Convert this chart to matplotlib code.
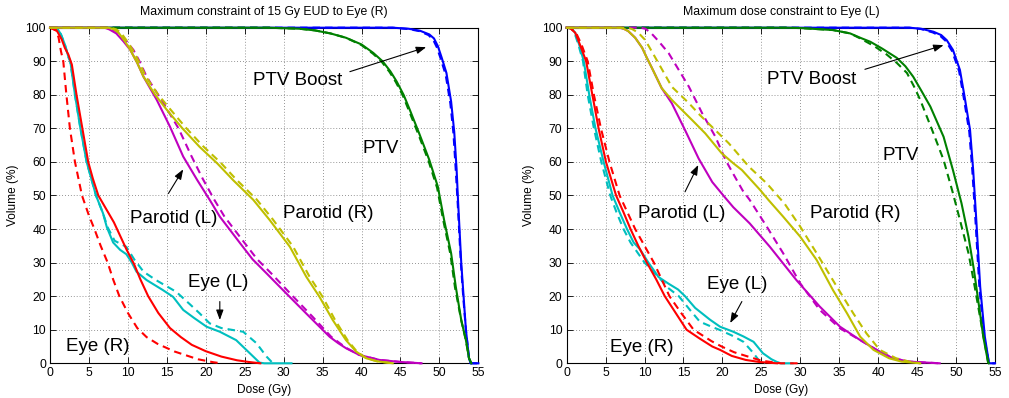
import matplotlib
matplotlib.use("Agg")
import matplotlib.pyplot as plt

plt.rcParams["font.family"] = ["Liberation Sans", "DejaVu Sans"]

# ---------------------------------------------------------------------------
# Dose-volume histograms: (dose in Gy, volume in %) pairs.
# Plan A is drawn solid, plan B dashed.
# ---------------------------------------------------------------------------

# Left panel: maximum constraint of 15 Gy EUD to Eye (R)
eud_boost_a = [(0, 100), (44, 100), (46, 99.7), (47.5, 99.1), (48.7, 98), (49.3, 96.8),
               (49.8, 94.5), (50.3, 91), (50.9, 86.5), (51.5, 78), (51.9, 69), (52.2, 58),
               (52.4, 48), (52.8, 30), (53.1, 20), (53.4, 10), (53.8, 1.5), (54.0, 0), (55, 0)]
eud_boost_b = [(0, 100), (44, 100), (46, 99.6), (47.4, 99.0), (48.6, 97.8), (49.2, 96.4),
               (49.7, 94.0), (50.2, 90.5), (50.8, 86.0), (51.4, 77.5), (51.8, 68.5), (52.1, 57.5),
               (52.35, 47.5), (52.75, 30), (53.05, 20), (53.4, 10), (53.8, 1.5), (54.0, 0), (55, 0)]
eud_ptv_a = [(0, 100), (28, 100), (32, 99.7), (34, 99.2), (36, 98.3), (38, 97), (40, 95),
             (41.5, 92.5), (42.7, 90), (43.7, 87), (44.5, 84), (45.4, 80), (46.2, 75.5),
             (47.4, 68.5), (48.7, 60.6), (49.8, 52.6), (50.6, 42.7), (51.5, 32.8), (52.1, 22.8),
             (52.8, 12.9), (53.4, 6.9), (53.8, 1.5), (54.1, 0)]
eud_ptv_b = [(0, 100), (28, 100), (32, 99.7), (34, 99.2), (36, 98.3), (38, 97), (40, 94.8),
             (41.5, 92.2), (42.6, 89.8), (43.6, 86.8), (44.4, 83.8), (45.3, 79.8), (46.1, 75.2),
             (47.3, 68.2), (48.6, 60.3), (49.7, 52.3), (50.5, 42.5), (51.4, 32.6), (52.0, 22.6),
             (52.8, 12.8), (53.4, 6.8), (53.8, 1.5), (54.1, 0)]
eud_parl_a = [(0, 100), (7.0, 100), (7.6, 99.5), (8.5, 98.3), (9.4, 96), (10.3, 93.4),
              (11.2, 89.5), (12, 85.4), (13.7, 78.5), (15.4, 70.5), (17.1, 61.6), (18.9, 54.6),
              (20.5, 48.7), (21.8, 43.7), (24.4, 35.8), (26, 31), (27.8, 26.8), (30.3, 20.9),
              (33.3, 13.9), (35.9, 7.9), (37, 6), (38, 4.5), (39.7, 2.5), (42.3, 1), (45, 0.4),
              (47.7, 0)]
eud_parl_b = [(0, 100), (7.3, 100), (8, 99.5), (8.9, 98.3), (9.8, 96), (10.7, 93.4),
              (11.6, 89.5), (12.4, 85.4), (14.3, 78.5), (16.5, 70), (18.1, 62), (19.6, 55),
              (21.1, 48.7), (22.4, 43.7), (25.0, 35.8), (26.6, 31), (28.4, 26.8), (30.8, 20.9),
              (33.7, 13.9), (36.1, 7.9), (37.2, 6), (38.1, 4.5), (39.7, 2.5), (42.3, 1), (45, 0.4),
              (47.7, 0)]
eud_parr_a = [(0, 100), (7.5, 100), (8.2, 99.5), (8.8, 98.5), (9.6, 96), (10.3, 93.4),
              (11.2, 89.5), (12, 85.4), (13.5, 80), (15, 75.5), (17, 70), (19.2, 64.5),
              (21.5, 59.5), (23.5, 54.6), (26.1, 48.7), (28.2, 42.7), (30.8, 34.7), (32.9, 25.8),
              (34.6, 19.8), (36.3, 12.9), (38, 6.9), (39.3, 3.5), (40.6, 1.5), (42, 0.6),
              (43, 0.3), (44, 0)]
eud_parr_b = [(0, 100), (7.8, 100), (8.5, 99.5), (9.1, 98.5), (9.9, 96), (10.6, 93.4),
              (11.5, 89.5), (12.3, 85.4), (13.9, 80), (15.4, 75.8), (17.4, 70.3), (19.6, 64.8),
              (21.9, 59.8), (23.9, 54.8), (26.5, 48.9), (28.6, 42.9), (31.2, 34.8), (33.3, 25.9),
              (35.0, 19.8), (36.6, 12.9), (38.2, 6.9), (39.4, 3.5), (40.6, 1.5), (42, 0.6),
              (43, 0.3), (44, 0)]
eud_eyer_a = [(0, 100), (0.9, 99), (1.5, 96.5), (1.9, 94), (2.35, 92), (2.8, 89), (3.4, 80),
              (4.15, 70), (4.9, 60), (5.5, 55), (6.2, 50), (7.2, 46), (8.2, 42), (9.0, 38),
              (9.8, 34), (10.8, 29.5), (11.6, 25), (12.6, 20), (13.9, 15), (15.4, 10.5),
              (16.8, 7.8), (18.2, 5.5), (20, 3.6), (22, 2), (24, 0.9), (25.5, 0.4), (27, 0)]
eud_eyer_b = [(0, 100), (0.8, 99.3), (1.1, 97), (1.4, 93), (1.7, 90), (2.1, 80), (2.55, 70),
              (3.2, 60), (4.1, 50), (5.0, 44), (5.7, 40), (6.5, 35), (7.4, 30), (8.1, 25),
              (8.9, 20), (10, 15), (11.2, 10.5), (12.4, 7.8), (13.8, 5.8), (16, 3.5), (19, 1.2),
              (21, 0.3), (22, 0)]
eud_eyel_a = [(0, 100), (1.0, 99.5), (1.4, 98), (1.9, 95), (2.4, 91), (2.6, 90), (3.2, 80),
              (3.9, 70), (4.7, 60), (5.9, 50), (6.8, 44.7), (7.3, 40.5), (8.1, 36), (9.0, 33.8),
              (9.8, 32.5), (10.5, 30), (11.1, 27.3), (12.4, 24.8), (14.5, 21.8), (15.8, 19.8),
              (17.1, 15.9), (18.5, 13.5), (20.1, 10.9), (21.8, 9.4), (23.9, 6.9), (25.2, 4.0),
              (26.9, 0.2), (27.5, 0), (31, 0)]
eud_eyel_b = [(0, 100), (1.0, 99.5), (1.4, 98), (1.9, 95), (2.4, 91), (2.6, 90), (3.2, 80),
              (3.9, 70), (4.7, 60), (5.9, 50), (6.8, 44.7), (7.4, 40.5), (8.3, 36.5), (9.8, 34.7),
              (10.8, 31), (12, 27.3), (13.6, 24.8), (16.2, 21.3), (18, 17.5), (19.2, 14.9),
              (20.5, 11.9), (22, 10.5), (24.8, 9.4), (26.5, 6), (27.8, 2), (28.5, 0.3), (29, 0)]

# Right panel: maximum dose constraint to Eye (L)
max_boost_a = [(0, 100), (44, 100), (45.5, 99.7), (47.1, 98.8), (48.1, 97.8), (48.8, 96.3),
               (49.6, 93.4), (50.5, 87.4), (51.1, 79.4), (51.8, 69.5), (52.2, 57.6),
               (52.6, 42.7), (53.1, 22.8), (53.7, 7.9), (54.2, 0.5), (54.3, 0), (55, 0)]
max_boost_b = [(0, 100), (44, 100), (45.5, 99.6), (47.0, 98.6), (48.0, 97.5), (48.7, 96.0),
               (49.5, 93.0), (50.4, 87.0), (51.0, 79.0), (51.7, 69.0), (52.1, 57.2),
               (52.5, 42.4), (53.0, 22.6), (53.6, 7.8), (54.2, 0.5), (54.3, 0), (55, 0)]
max_ptv_a = [(0, 100), (28, 100), (30, 99.9), (34.2, 99.3), (36.4, 98.3), (37.7, 97.0),
             (39.0, 95.8), (40.5, 93.8), (42.4, 91.0), (43.5, 88.5), (44.5, 85.4), (45.6, 81),
             (46.7, 76.5), (48.4, 67.5), (49.6, 57.6), (50.7, 47.7), (51.6, 37.7), (52.3, 27.8),
             (52.9, 17.9), (53.5, 7.9), (54.1, 0.5), (54.2, 0)]
max_ptv_b = [(0, 100), (28, 100), (30, 99.9), (34.2, 99.3), (36.4, 98.3), (37.7, 96.8),
             (39.5, 94.5), (41.1, 92.0), (42.4, 89.5), (43.7, 86.5), (44.6, 82.5), (45.4, 78.5),
             (47.1, 68.5), (48.4, 60.6), (49.6, 50.7), (50.5, 42.7), (51.6, 32.8), (52.4, 22.8),
             (53.3, 10.9), (54.1, 0.5), (54.2, 0)]
max_parl_a = [(0, 100), (6.8, 100), (7.4, 99.6), (7.9, 99), (8.8, 97), (9.7, 94), (10.3, 91),
              (10.95, 88), (12.2, 82), (13.5, 77.5), (15.2, 69.5), (16.95, 61), (18.7, 54),
              (20.3, 49.5), (21.4, 46.5), (23.5, 41.7), (26.1, 34.7), (29.5, 24.8), (32.5, 16.9),
              (35.1, 10.9), (37.7, 6.9), (39.8, 4), (41.9, 1.5), (44, 0.5), (47.9, 0)]
max_parl_b = [(0, 100), (9.5, 100), (10.1, 99.7), (10.8, 98.5), (11.8, 96), (13.1, 92.4),
              (14.4, 87.4), (15.7, 82.4), (17.4, 74.5), (19.1, 67.5), (20.4, 60.6), (21.5, 56),
              (22.6, 51.5), (23.5, 48.7), (25.7, 40.7), (27.8, 32.8), (30, 23.8), (32.5, 15.9),
              (35.1, 10.4), (37.7, 6.9), (39.8, 4), (41.9, 1.5), (44, 0.5), (47.9, 0)]
max_parr_a = [(0, 100), (7.0, 100), (7.4, 99.6), (7.9, 99), (8.8, 97), (9.7, 94), (10.3, 91),
              (10.95, 88), (12.2, 82), (13.5, 78.5), (14.8, 75.5), (16.1, 72.5), (17.8, 68.5),
              (19.9, 62.6), (21.4, 59.6), (22.5, 57.6), (24.9, 51.5), (25.9, 48.7), (27.8, 43.7),
              (30, 37.7), (32.1, 30.8), (34.2, 21.8), (36, 14.9), (37.7, 7.9), (39.4, 4),
              (41.4, 1.5), (43, 0.5), (45.4, 0)]
max_parr_b = [(0, 100), (7.8, 100), (8.4, 99.6), (9.2, 98.5), (10.1, 96.3), (11.8, 89.4),
              (13.5, 82.4), (15.7, 77.5), (17.1, 74), (18.2, 71.5), (20.8, 65.6), (21.4, 64),
              (23.4, 58.6), (25.7, 53.6), (28, 47.5), (30, 40.7), (32.1, 32.8), (34.7, 22.8),
              (36.8, 14.9), (38.5, 8.9), (40.2, 4), (42.3, 1.5), (44, 0.5), (45.4, 0)]
max_eyer_a = [(0, 100), (0.5, 99.8), (1.1, 98.5), (1.7, 95), (2.5, 90), (3.3, 80), (4.1, 70),
              (5.05, 60), (6.35, 50), (7.3, 45), (8.2, 40), (9.2, 35), (10.3, 30), (11.5, 25),
              (12.6, 20), (14.0, 15), (15.4, 10), (17.0, 7.5), (18.7, 5), (19.7, 4), (21.2, 2.2),
              (23, 1), (24.7, 0.4), (27, 0)]
max_eyer_b = [(0, 100), (0.5, 99.8), (1.2, 98.5), (1.9, 95), (2.7, 90), (3.5, 80), (4.4, 70),
              (5.5, 60), (6.8, 50), (7.8, 45), (8.8, 40), (10, 35), (11.2, 30), (12.2, 25),
              (13.2, 20), (14.7, 15), (16.3, 10), (18.6, 6.6), (19.9, 5), (21.5, 3.3), (23.3, 2),
              (25, 0.8), (26.5, 0.3), (27.5, 0), (30.2, 0)]
max_eyel_a = [(0, 100), (0.6, 99.8), (1.1, 98.5), (1.6, 95), (2.2, 90), (2.9, 80), (3.7, 70),
              (4.75, 60), (5.9, 50), (6.8, 45), (7.75, 40), (8.6, 36), (9.4, 34), (10.5, 30),
              (11.8, 25.7), (13.1, 23.7), (14.3, 22), (15.2, 20), (16.5, 16.5), (17.1, 15.4),
              (18.4, 13), (19.7, 10.9), (21.4, 9.4), (22.7, 8), (24, 6.4), (25.2, 3), (26.3, 1.2),
              (27, 0.4), (27.5, 0), (29, 0)]
max_eyel_b = [(0, 100), (0.6, 99.8), (1.0, 98.5), (1.5, 95), (2.1, 90), (2.7, 80), (3.5, 70),
              (4.45, 60), (5.6, 50), (6.4, 45), (7.3, 40), (8.2, 36), (8.8, 34), (10, 30),
              (11.8, 25.7), (13, 22.5), (14.4, 20), (15.8, 16), (17.1, 12.4), (18.5, 11),
              (19.7, 9.9), (21.2, 8.3), (22.7, 6.4), (24, 3), (24.8, 0.5), (25.5, 0)]

titles = ["Maximum constraint of 15 Gy EUD to Eye (R)", "Maximum dose constraint to Eye (L)"]
x_ticks = list(range(0, 56, 5))
y_ticks = list(range(0, 101, 10))

# MATLAB-style colour order per structure
colors = {
    "boost": (0, 0, 1),
    "ptv": (0, 0.5, 0),
    "eyel": (0, 0.75, 0.75),
    "eyer": (1, 0, 0),
    "parl": (0.75, 0, 0.75),
    "parr": (0.75, 0.75, 0),
}

panels = [
    {"boost": (eud_boost_a, eud_boost_b), "ptv": (eud_ptv_a, eud_ptv_b),
     "eyel": (eud_eyel_a, eud_eyel_b), "eyer": (eud_eyer_a, eud_eyer_b),
     "parl": (eud_parl_a, eud_parl_b), "parr": (eud_parr_a, eud_parr_b)},
    {"boost": (max_boost_a, max_boost_b), "ptv": (max_ptv_a, max_ptv_b),
     "eyel": (max_eyel_a, max_eyel_b), "eyer": (max_eyer_a, max_eyer_b),
     "parl": (max_parl_a, max_parl_b), "parr": (max_parr_a, max_parr_b)},
]

# Label positions (data coordinates) and arrows (tail -> head)
labels = [
    [("PTV Boost", 26.0, 84.4), ("PTV", 40.1, 64.1), ("Parotid (L)", 10.3, 43.2),
     ("Parotid (R)", 29.9, 44.7), ("Eye (L)", 17.7, 24.0), ("Eye (R)", 2.1, 5.0)],
    [("PTV Boost", 25.7, 84.7), ("PTV", 40.5, 61.8), ("Parotid (L)", 9.2, 44.7),
     ("Parotid (R)", 31.2, 44.7), ("Eye (L)", 18.0, 23.6), ("Eye (R)", 5.6, 4.8)],
]
arrows = [
    [((38.5, 86.9), (48.3, 94.2)), ((15.2, 50.6), (17.1, 57.8)), ((21.8, 18.4), (21.8, 12.9))],
    [((38.3, 87.6), (48.4, 94.8)), ((15.2, 51.1), (16.9, 59.1)), ((22.5, 18.4), (21.0, 12.0))],
]

fig = plt.figure(figsize=(10.09, 3.98), dpi=100)
axes_rects = [[0.0496, 0.0872, 0.4245, 0.8432], [0.5616, 0.0872, 0.4245, 0.8432]]

draw_order = ["boost", "ptv", "eyel", "eyer", "parl", "parr"]

for rect, panel, title, texts, arrs in zip(axes_rects, panels, titles, labels, arrows):
    ax = fig.add_axes(rect)
    for key in draw_order:
        curve_a, curve_b = panel[key]
        xa, ya = zip(*curve_a)
        xb, yb = zip(*curve_b)
        ax.plot(xa, ya, color=colors[key], lw=1.5, solid_joinstyle="round",
                zorder=3, clip_on=False)
        ax.plot(xb, yb, color=colors[key], lw=1.5, linestyle=(0, (3.6, 2.4)),
                zorder=3, clip_on=False)

    ax.set_xlim(0, 55)
    ax.set_ylim(0, 100)
    ax.set_xticks(x_ticks)
    ax.set_yticks(y_ticks)
    ax.tick_params(direction="in", top=True, right=True, length=4, width=0.6,
                   labelsize=8.7, pad=3)
    ax.grid(True, color=(0.45, 0.45, 0.45), linestyle=(0, (1, 2.5)), linewidth=0.6)
    for sp in ax.spines.values():
        sp.set_linewidth(0.8)
        sp.set_zorder(2.5)

    ax.text(0.5, 1.046, title, transform=ax.transAxes, ha="center", va="center",
            fontsize=8.8)
    ax.text(0.5, -0.08, "Dose (Gy)", transform=ax.transAxes, ha="center", va="center",
            fontsize=8.6)
    ax.text(-0.087, 0.5, "Volume (%)", transform=ax.transAxes, ha="center", va="center",
            rotation=90, fontsize=8.6)

    for txt, x, y in texts:
        ax.text(x, y, txt, fontsize=13.5, ha="left", va="center", zorder=5)
    for tail, head in arrs:
        ax.annotate("", xy=head, xytext=tail,
                    arrowprops=dict(arrowstyle="-|>,head_length=0.6,head_width=0.22",
                                    color="black", lw=0.8, shrinkA=0, shrinkB=0),
                    zorder=5)

fig.savefig("out.png", dpi=100)
